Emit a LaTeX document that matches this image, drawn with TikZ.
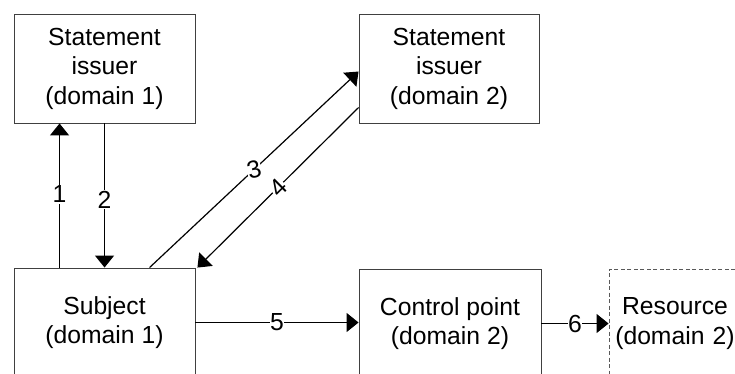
\documentclass[tikz,border=0pt]{standalone}
\usepackage{fontspec}
\setmainfont{Liberation Sans}
\usetikzlibrary{arrows.meta}
\begin{document}
\begin{tikzpicture}[x=1pt,y=1pt,
  box/.style={draw=black!75,line width=0.9pt,inner sep=0pt,align=center,
    font=\fontsize{24.7}{29.5}\selectfont,minimum height=109pt},
  dbox/.style={box,dashed,dash pattern=on 4pt off 2.5pt,draw=black!65},
  arr/.style={line width=1.2pt,-{Triangle[length=12pt,width=19pt]}},
  lbl/.style={fill=white,inner sep=1pt,font=\fontsize{24.7}{29.5}\selectfont}]
\useasboundingbox (0,0) rectangle (735,-374);
\clip (0,0) rectangle (735,-374);
\node[box,minimum width=181pt] (A) at (104.5,-68.5) {Statement\\issuer\\(domain 1)};
\node[box,minimum width=180pt] (B) at (449,-68.5) {Statement\\issuer\\(domain 2)};
\node[box,minimum width=181pt] (S) at (104.5,-322.5) {Subject\\(domain 1)};
\node[box,minimum width=182pt] (C) at (450,-323.5) {Control point\\(domain 2)};
\node[dbox,minimum width=132pt,text width=132pt] (R) at (675,-323.5) {Resource\\(domain 2)};
% 1 and 2
\draw[arr] ([xshift=46pt]S.north west) -- node[lbl,pos=0.51]{1} ([xshift=46pt]A.south west);
\draw[arr] ([xshift=91pt]A.south west) -- node[lbl,pos=0.53]{2} ([xshift=91pt]S.north west);
% 3 and 4
\draw[arr] ([xshift=136pt]S.north west) -- node[lbl,rotate=15,inner sep=0.5pt]{3} ([yshift=-58pt]B.north west);
\draw[arr] ([yshift=-94pt]B.north west) -- node[lbl,sloped,inner sep=0.5pt]{4} ([xshift=2pt]S.north east);
% 5 and 6
\draw[arr] (S.east |- C.west) ++(0,1pt) coordinate (s5) (s5) -- node[lbl,inner sep=0.5pt]{5} (s5 -| C.west);
\draw[arr] (C.east) -- node[lbl,inner sep=0.5pt]{6} (C.east -| R.west);
\end{tikzpicture}
\end{document}
